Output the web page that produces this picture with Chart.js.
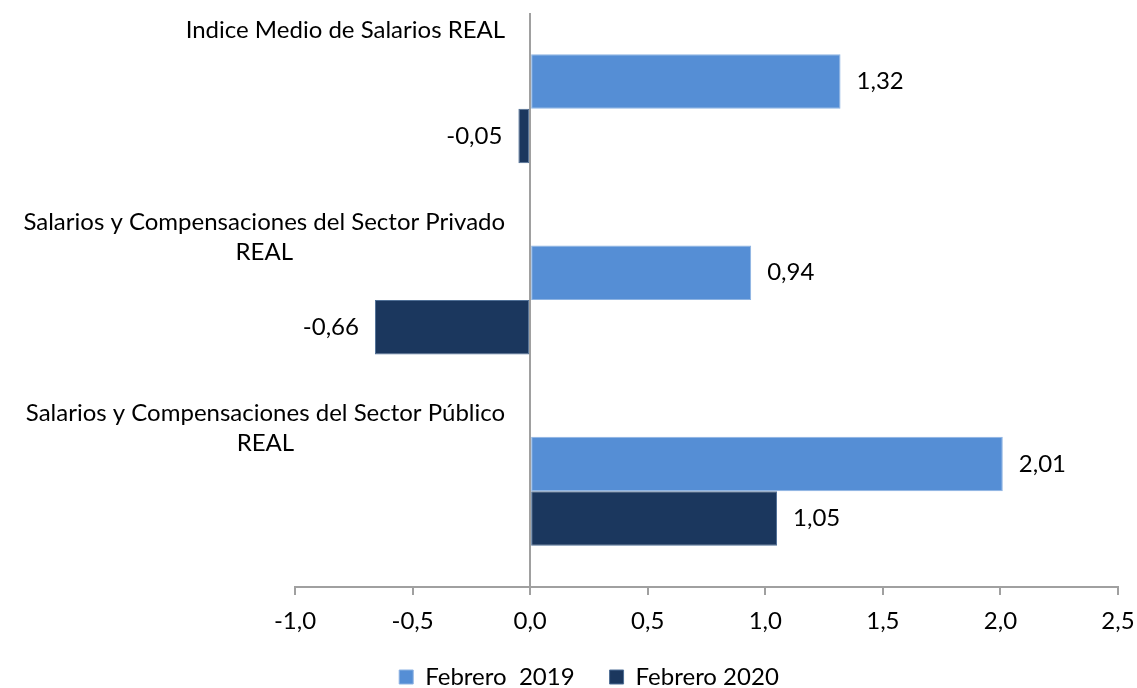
<!DOCTYPE html>
<html>
<head>
<meta charset="utf-8">
<script src="https://cdn.jsdelivr.net/npm/chart.js@4/dist/chart.umd.min.js"></script>
<style>
  html, body { margin: 0; padding: 0; background: #fff; }
  #wrap { width: 1137px; height: 688px; position: relative; }
</style>
</head>
<body>
<div id="wrap"><canvas id="salChart"></canvas></div>
<script>
const categories = [
    ['Indice Medio de Salarios REAL'],
    ['Salarios y Compensaciones del Sector Privado', 'REAL'],
    ['Salarios y Compensaciones del Sector Público', 'REAL']
];
const seriesNames = ['Febrero  2019', 'Febrero 2020'];
const feb2019 = [1.32, 0.94, 2.01];
const feb2020 = [-0.05, -0.66, 1.05];
const xTicks = [-1.0, -0.5, 0.0, 0.5, 1.0, 1.5, 2.0, 2.5];

const FONT = 'Lato';
const FSIZE = 24;
const axisGray = '#a0a0a0';

function fmt(v, d) {
    return v.toFixed(d).replace('.', ',');
}

// the x axis box is squeezed so the legend sits close; widen its clip area again
const axisClipFix = {
    id: 'axisClipFix',
    afterLayout(chart) {
        chart.scales.x.bottom += 20;
    }
};

// category names sit above their bars, to the left of the zero line
const categoryLabels = {
    id: 'categoryLabels',
    afterDraw(chart) {
        const ctx = chart.ctx;
        const yScale = chart.scales.y;
        const xScale = chart.scales.x;
        const rightEdge = xScale.getPixelForValue(0) - 25;
        ctx.save();
        ctx.font = FSIZE + 'px ' + FONT;
        ctx.fillStyle = '#000';
        ctx.textAlign = 'center';
        ctx.textBaseline = 'middle';
        categories.forEach((lines, i) => {
            const cy = yScale.getPixelForValue(i);
            const maxW = Math.max(...lines.map(l => ctx.measureText(l).width));
            const cx = rightEdge - maxW / 2;
            lines.forEach((l, j) => {
                ctx.fillText(l, cx, cy - 78 + j * 30);
            });
        });
        ctx.restore();
    }
};

// value labels at the end of each bar
const valueLabels = {
    id: 'valueLabels',
    afterDatasetsDraw(chart) {
        const ctx = chart.ctx;
        ctx.save();
        ctx.font = FSIZE + 'px ' + FONT;
        ctx.fillStyle = '#000';
        ctx.textBaseline = 'middle';
        chart.data.datasets.forEach((ds, di) => {
            const meta = chart.getDatasetMeta(di);
            meta.data.forEach((bar, i) => {
                const v = ds.data[i];
                if (v >= 0) {
                    ctx.textAlign = 'left';
                    ctx.fillText(fmt(v, 2), bar.x + 16, bar.y);
                } else {
                    ctx.textAlign = 'right';
                    ctx.fillText(fmt(v, 2), bar.x - 16, bar.y);
                }
            });
        });
        ctx.restore();
    }
};

const ctx = document.getElementById('salChart').getContext('2d');
const myChart = new Chart(ctx, {
    type: 'bar',
    data: {
        labels: categories,
        datasets: [{
            label: seriesNames[0],
            data: feb2019,
            backgroundColor: '#558ed5',
            borderColor: '#8db3e2',
            borderWidth: 1,
            borderSkipped: false
        }, {
            label: seriesNames[1],
            data: feb2020,
            backgroundColor: '#1b375e',
            borderColor: '#4f6f96',
            borderWidth: 1,
            borderSkipped: false
        }]
    },
    options: {
        indexAxis: 'y',
        responsive: true,
        maintainAspectRatio: false,
        animation: false,
        datasets: {
            bar: { categoryPercentage: 0.57, barPercentage: 1.0 }
        },
        layout: {
            padding: { left: 60, right: 19, top: 13, bottom: -11 }
        },
        scales: {
            x: {
                min: -1.0,
                max: 2.5,
                afterBuildTicks: axis => {
                    axis.ticks = xTicks.map(v => ({ value: v }));
                },
                afterFit: axis => {
                    axis.paddingLeft = 0;
                    axis.paddingRight = 0;
                    axis.height = 43;
                },
                ticks: {
                    font: { family: FONT, size: FSIZE },
                    color: '#000',
                    padding: 12,
                    maxRotation: 0,
                    callback: v => fmt(v, 1)
                },
                grid: {
                    color: c => (c.tick && c.tick.value === 0) ? axisGray : 'rgba(0,0,0,0)',
                    lineWidth: 2,
                    tickColor: axisGray,
                    tickLength: 8,
                    drawTicks: true
                },
                border: { display: true, color: axisGray, width: 2 }
            },
            y: {
                display: true,
                ticks: { display: false },
                grid: { display: false },
                border: { display: false },
                afterFit: axis => { axis.width = 235; }
            }
        },
        plugins: {
            legend: {
                position: 'bottom',
                labels: {
                    font: { family: FONT, size: FSIZE },
                    color: '#000',
                    boxWidth: 14,
                    boxHeight: 14,
                    padding: 35
                }
            },
            tooltip: { enabled: false }
        }
    },
    plugins: [axisClipFix, categoryLabels, valueLabels]
});
</script>
</body>
</html>
